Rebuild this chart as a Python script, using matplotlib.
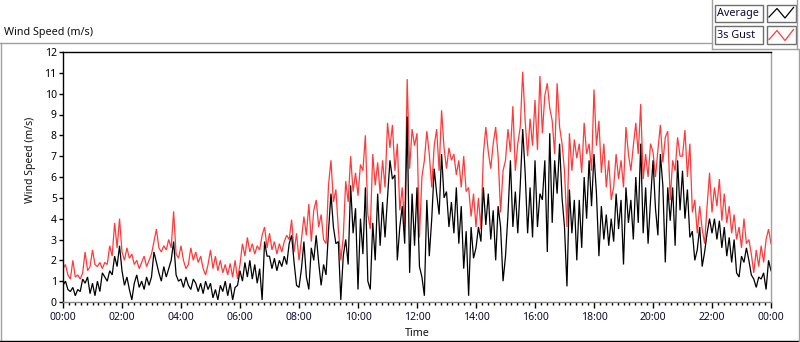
import numpy as np
import matplotlib
matplotlib.use('Agg')
import matplotlib.pyplot as plt
from matplotlib.patches import Rectangle
from matplotlib.lines import Line2D
from matplotlib.ticker import MultipleLocator, FuncFormatter

plt.rcParams['font.family'] = ['Noto Sans', 'DejaVu Sans']

# ---------------- data (5-minute samples, m/s) ----------------
gust_00_06 = [1.6,1.8,1.3,1.1,2.0,1.2,1.3,1.1,1.4,2.4,1.5,1.7,
              2.5,1.8,1.7,1.9,1.6,1.9,1.8,2.7,2.2,3.8,2.6,4.0,
              2.4,2.0,2.6,2.1,2.3,1.8,2.0,1.6,1.9,2.2,1.7,2.0,
              2.3,2.9,3.5,2.6,2.4,2.7,2.5,3.0,2.6,4.35,2.3,2.1,
              2.7,2.0,1.6,1.8,2.6,2.0,2.4,1.9,2.2,1.6,1.3,1.8,
              2.5,1.6,2.2,1.5,2.0,1.4,1.8,1.3,1.85,1.2,2.0,1.1]
gust_06_12 = [1.8,2.8,2.2,3.1,2.4,2.8,2.3,2.7,2.5,3.2,3.6,2.6,
              3.3,2.5,2.9,2.3,2.8,2.4,2.9,3.2,3.0,3.95,2.4,3.3,
              2.0,3.0,4.1,3.2,4.7,2.9,4.4,4.9,3.6,4.2,3.0,2.8,
              5.6,6.8,4.8,5.4,3.5,2.0,3.1,5.8,4.8,7.0,5.3,6.2,
              5.1,6.6,6.3,8.0,4.2,3.5,7.1,5.6,6.7,5.2,6.8,5.5,
              8.6,7.4,8.5,6.3,7.6,4.4,5.5,3.6,10.7,6.4,8.3,7.5]
gust_12_18 = [8.1,3.1,6.0,6.8,8.2,7.1,5.5,7.5,8.3,6.3,9.2,7.4,
              6.4,7.4,6.8,7.1,6.1,6.8,5.5,7.0,5.3,5.5,4.1,5.2,
              3.6,5.0,3.5,7.1,8.4,7.2,6.4,7.6,8.4,7.0,4.3,6.3,
              6.8,8.3,7.2,9.4,6.3,7.6,8.4,11.05,8.7,7.0,8.8,7.5,
              9.7,7.3,10.85,8.1,9.9,10.5,9.3,8.7,7.1,10.5,8.4,7.6,
              6.3,3.6,8.1,6.3,7.8,6.9,7.6,6.2,8.6,7.1,7.6,6.3]
gust_18_24 = [10.2,7.5,8.7,6.2,7.6,5.5,6.8,4.9,5.5,7.1,5.9,6.8,
              5.5,8.4,7.1,6.3,7.5,8.6,7.1,9.5,5.9,7.1,6.0,7.6,
              7.2,6.0,7.3,8.5,6.7,7.9,8.2,4.9,6.8,6.3,7.9,7.0,
              7.0,8.25,6.0,7.6,4.3,4.9,3.3,4.6,3.5,2.8,4.6,6.2,
              4.3,5.5,4.6,5.9,3.9,5.2,3.8,4.6,3.3,4.2,3.0,3.6,
              2.6,4.0,2.8,3.0,2.3,1.4,2.5,1.7,2.7,1.9,3.0,3.5,2.8]

avg_00_06 = [0.8,1.0,0.6,0.5,0.7,0.3,0.6,0.5,1.1,0.9,1.2,0.4,
             0.9,0.3,1.0,0.5,1.4,1.2,1.0,1.5,1.3,2.2,1.7,2.7,
             1.5,0.8,1.2,0.6,0.1,0.9,1.3,0.7,1.0,0.6,1.2,0.8,
             1.2,2.4,1.9,1.4,1.0,1.7,1.2,1.6,2.0,2.9,1.3,1.0,
             1.1,0.7,1.2,0.8,0.6,1.1,0.9,0.5,0.9,0.4,1.0,0.6,
             0.9,0.2,0.6,0.1,0.8,0.5,1.0,0.3,0.9,0.1,0.7,0.8]
avg_06_12 = [1.5,1.0,1.9,1.2,2.0,1.1,1.8,0.9,1.6,0.1,2.9,2.2,
             2.2,1.6,2.1,1.5,2.0,1.7,2.2,1.8,2.8,3.2,1.9,0.8,
             0.7,1.6,2.9,1.2,0.6,2.6,2.0,3.2,1.9,0.8,1.8,1.3,
             3.4,5.2,3.6,2.8,2.9,0.1,2.2,3.0,1.8,5.6,3.3,4.5,
             0.6,4.0,2.3,5.5,1.0,0.6,3.8,2.0,5.2,2.7,4.8,3.1,
             5.0,6.8,5.9,6.1,2.0,3.6,4.6,2.8,8.9,1.4,5.2,2.7]
avg_12_18 = [5.5,1.7,1.2,0.3,4.9,2.2,4.0,6.4,5.2,4.2,7.1,5.0,
             5.3,3.6,4.8,3.3,5.5,2.8,4.6,1.6,3.4,0.3,3.6,2.1,
             2.6,3.6,2.9,5.5,3.7,5.2,3.0,4.4,2.0,4.6,3.6,1.0,
             2.2,4.2,6.8,3.6,5.3,3.3,5.6,8.3,6.2,3.3,5.5,3.1,
             6.8,3.6,5.2,4.9,6.8,2.4,8.1,3.8,6.8,5.2,7.6,5.0,
             3.6,0.75,5.4,3.3,4.9,2.0,4.9,2.6,6.0,4.0,6.8,4.6]
avg_18_24 = [7.1,5.2,2.2,4.6,3.0,4.2,2.7,4.0,2.9,5.2,3.5,4.9,
             1.8,5.5,3.8,4.9,3.0,6.0,3.8,7.6,3.3,5.5,2.8,4.9,
             6.8,4.5,3.2,7.1,5.6,1.9,5.5,3.9,5.5,2.7,6.8,4.4,
             6.3,4.0,5.4,3.1,3.4,2.0,2.5,3.6,1.7,2.4,3.3,4.0,
             3.3,4.0,3.0,3.9,2.6,3.6,2.2,3.1,1.9,3.0,1.4,1.2,
             2.2,1.9,2.6,2.0,1.3,1.1,0.7,1.2,1.1,1.4,0.6,2.0,1.5]

gust = np.array(gust_00_06 + gust_06_12 + gust_12_18 + gust_18_24)
avg = np.array(avg_00_06 + avg_06_12 + avg_12_18 + avg_18_24)
step_min = 5
minutes = np.arange(len(gust)) * step_min

series_names = ["Average", "3s Gust"]
y_label = "Wind Speed (m/s)"
x_label = "Time"

# ---------------- figure ----------------
W, H = 800, 342
fig = plt.figure(figsize=(W / 100, H / 100), dpi=100)


def fx(x):
    return x / W


def fy(y):
    return 1 - y / H


GRAY = '#a0a0a0'
DARK = '#6e6e6e'
RED = '#ff3a3a'

ax = fig.add_axes([fx(63), fy(302), (771 - 63) / W, (302 - 52) / H])
ax.plot(minutes, gust, color=RED, lw=0.9, solid_joinstyle='miter')
ax.plot(minutes, avg, color='black', lw=0.9, solid_joinstyle='miter')

ax.set_xlim(0, 1440)
ax.set_ylim(0, 12)
ax.yaxis.set_major_locator(MultipleLocator(1))
ax.xaxis.set_major_locator(MultipleLocator(120))
ax.xaxis.set_minor_locator(MultipleLocator(12))
ax.xaxis.set_major_formatter(FuncFormatter(lambda v, p: f"{int(v // 60) % 24:02d}:00"))

ax.tick_params(axis='y', direction='out', length=3, width=1, labelsize=7.5,
               pad=1.5, color='black', labelcolor='#000000')
ax.tick_params(axis='x', which='major', direction='out', length=4.5, width=1,
               labelsize=7.5, pad=2.5, color='black', labelcolor='#0a0a30')
ax.tick_params(axis='x', which='minor', direction='out', length=2.5, width=1,
               color='black')

ax.spines['left'].set_color('black')
ax.spines['top'].set_color('black')
ax.spines['right'].set_color(GRAY)
ax.spines['bottom'].set_color('#8a8a8a')
for s in ax.spines.values():
    s.set_linewidth(1.0)

fig.text(fx(30), fy(160), y_label, rotation=90, ha='center', va='center',
         fontsize=7.5, color='#101010')
fig.text(fx(417), fy(333), x_label, ha='center', va='center',
         fontsize=7.8, color='#101010')
fig.text(fx(4), fy(32), y_label, ha='left', va='center',
         fontsize=7.8, color='#101010')


def hline(x0, x1, y, color, lw=1.0):
    fig.add_artist(Line2D([fx(x0), fx(x1)], [fy(y), fy(y)], color=color, lw=lw,
                          transform=fig.transFigure))


def vline(x, y0, y1, color, lw=1.0):
    fig.add_artist(Line2D([fx(x), fx(x)], [fy(y0), fy(y1)], color=color, lw=lw,
                          transform=fig.transFigure))


# outer panel frame
hline(0, 711.5, 42.5, GRAY)
vline(0.6, 42.5, 341, GRAY)
hline(0, 799.5, 341.2, 'black')
vline(799.3, 49, 341.5, GRAY)
# legend panel
vline(711.5, 0, 49, GRAY)
hline(711.5, 797.5, 48.7, GRAY)
vline(797.3, 0, 49, GRAY)


def box(x0, y0, x1, y1, ec=DARK):
    fig.add_artist(Rectangle((fx(x0), fy(y1)), (x1 - x0) / W, (y1 - y0) / H,
                             transform=fig.transFigure, facecolor='white',
                             edgecolor=ec, lw=1.0))


rows = [(4.5, 21.5, 'black'), (26.5, 44, RED)]
for (y0, y1, col), name in zip(rows, series_names):
    box(715, y0, 763, y1)
    fig.text(fx(717), fy((y0 + y1) / 2 + 0.3), name, ha='left', va='center',
             fontsize=7.8, color='#0a0a30')
    box(766.5, y0, 795.5, y1)
    zx = [769, 777, 785, 793.5]
    zy = [y1 - 4.5, y0 + 4, y1 - 3.5, y0 + 3]
    fig.add_artist(Line2D([fx(v) for v in zx], [fy(v) for v in zy], color=col,
                          lw=0.9, transform=fig.transFigure))

fig.savefig('out.png', dpi=100)
